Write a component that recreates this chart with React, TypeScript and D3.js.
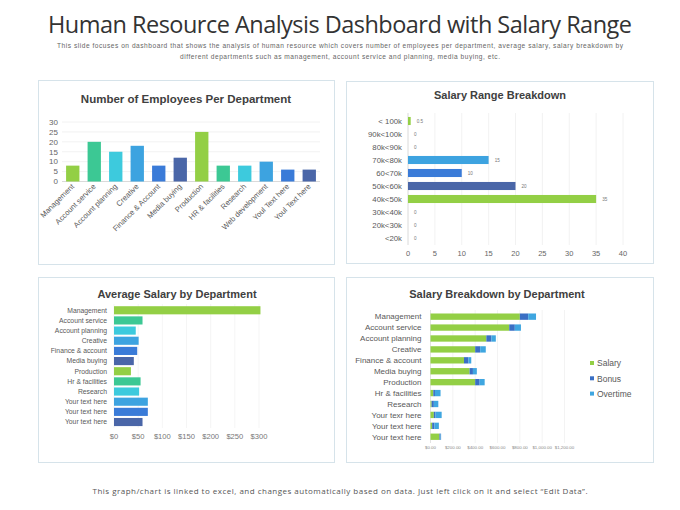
import React from "react";
import * as d3 from "d3";

const PALETTE = ["#93CF45", "#3CC894", "#3DCADD", "#3DA3E0", "#3A7BD8", "#4A66A8"];

// Panel 1
const empDepts = ["Management", "Account service", "Account planning", "Creative", "Finance & Account", "Media buying", "Production", "HR & facilities", "Research", "Web development", "Youl Text here", "Youl Text here "];
const empCounts = [8, 20, 15, 18, 8, 12, 25, 8, 8, 10, 6, 6];
const empTicks = [0, 5, 10, 15, 20, 25, 30];

// Panel 2
const rangeLabels = ["< 100k", "90k<100k", "80k<90k", "70k<80k", "60<70k", "50k<60k", "40k<50k", "30k<40k", "20k<30k", "<20k"];
const rangeValues = [0.5, 0, 0, 15, 10, 20, 35, 0, 0, 0];
const rangeTicks = [0, 5, 10, 15, 20, 25, 30, 35, 40];

// Panel 3
const avgDepts = ["Management", "Account service", "Account planning", "Creative", "Finance & account", "Media buying", "Production", "Hr & facilities", "Research", "Your text here", "Your text here ", "Your text here  "];
const avgSalary = [303, 59, 45, 51, 48, 41, 35, 55, 52, 70, 70, 59];
const avgTicks = [0, 50, 100, 150, 200, 250, 300];

// Panel 4
const brkDepts = ["Management", "Account service", "Account planning", "Creative", "Finance & account", "Media buying", "Production", "Hr & facilities", "Research", "Your texr here", "Your text here", "Your text here "];
const brkSalary = [800, 705, 500, 400, 300, 350, 400, 25, 10, 30, 15, 80];
const brkBonus = [75, 50, 45, 45, 40, 30, 40, 15, 20, 15, 20, 10];
const brkOvertime = [70, 55, 40, 50, 25, 35, 45, 50, 40, 55, 40, 5];
const brkSeries = ["Salary", "Bonus", "Overtime"];
const brkColors = ["#93CF45", "#3A6FC4", "#3FA6E0"];
const brkTicks = [0, 200, 400, 600, 800, 1000, 1200];

const FONT = "'Liberation Sans', Arial, sans-serif";
const TITLE_FONT = "'Open Sans', 'DejaVu Sans', sans-serif";

function Panel({ x, y, w, h }: { x: number; y: number; w: number; h: number }) {
  return <rect x={x + 0.5} y={y + 0.5} width={w} height={h} fill="#fff" stroke="#d6e3ea" strokeWidth={1} />;
}

export default function App() {
  // Panel 1 scales
  const x1 = d3.scaleBand<number>().domain(d3.range(empDepts.length)).range([62, 320]).paddingInner(0.38).paddingOuter(0.19);
  const y1 = d3.scaleLinear().domain([0, 30]).range([181.5, 122]);

  // Panel 2 scales
  const y2 = d3.scaleBand<number>().domain(d3.range(rangeLabels.length)).range([114.5, 244.5]).paddingInner(0.38).paddingOuter(0.19);
  const x2 = d3.scaleLinear().domain([0, 40]).range([408, 623]);

  // Panel 3 scales
  const y3 = d3.scaleBand<number>().domain(d3.range(avgDepts.length)).range([305.2, 427.1]).paddingInner(0.2).paddingOuter(0.1);
  const x3 = d3.scaleLinear().domain([0, 300]).range([114, 259]);

  // Panel 4 scales
  const y4 = d3.scaleBand<number>().domain(d3.range(brkDepts.length)).range([311.2, 442.2]).paddingInner(0.42).paddingOuter(0.21);
  const x4 = d3.scaleLinear().domain([0, 1200]).range([430.5, 564.5]);
  const stackData = brkDepts.map((d, i) => ({ i, Salary: brkSalary[i], Bonus: brkBonus[i], Overtime: brkOvertime[i] }));
  const stacked = d3.stack<any>().keys(brkSeries)(stackData);
  const fmtMoney = (v: number) => "$" + d3.format(",.2f")(v);

  return (
    <svg width={680} height={510} style={{ position: "absolute", left: 0, top: 0, background: "#fff" }} fontFamily={FONT}>
      <rect width={680} height={510} fill="#fff" />
      {/* Header */}
      <text x={340} y={33} textAnchor="middle" fontFamily={TITLE_FONT} fontSize={23.5} fill="#333" textLength={584} lengthAdjust="spacing">
        Human Resource Analysis Dashboard with Salary Range
      </text>
      <text x={340} y={48} textAnchor="middle" fontSize={6.6} fill="#666" textLength={566} lengthAdjust="spacing">
        This slide focuses on dashboard that shows the analysis of human resource which covers number of employees per department, average salary, salary breakdown by
      </text>
      <text x={340} y={59} textAnchor="middle" fontSize={6.6} fill="#666" textLength={320} lengthAdjust="spacing">
        different departments such as management, account service and planning, media buying, etc.
      </text>

      {/* Panel 1 */}
      <Panel x={38} y={80} w={296} h={184} />
      <text x={186} y={102.5} textAnchor="middle" fontSize={11.5} fontWeight="bold" fill="#404040">Number of Employees Per Department</text>
      {empTicks.map((t) => (
        <g key={"g1" + t}>
          <line x1={62} x2={320} y1={y1(t)} y2={y1(t)} stroke={t === 0 ? "#d0d0d0" : "#efefef"} strokeWidth={0.8} />
          <text x={58} y={y1(t) + 2.8} textAnchor="end" fontSize={8} fill="#666">{t}</text>
        </g>
      ))}
      {empCounts.map((v, i) => (
        <rect key={"b1" + i} x={x1(i)} y={y1(v)} width={x1.bandwidth()} height={y1(0) - y1(v)} fill={PALETTE[i % 6]} />
      ))}
      {empDepts.map((d, i) => {
        const cx = (x1(i) as number) + x1.bandwidth() / 2 + 2;
        return (
          <text key={"l1" + i} transform={`translate(${cx},${187}) rotate(-45)`} textAnchor="end" fontSize={7.6} fill="#595959">{d.trim()}</text>
        );
      })}

      {/* Panel 2 */}
      <Panel x={346} y={81} w={307} h={182} />
      <text x={500} y={99} textAnchor="middle" fontSize={11} fontWeight="bold" fill="#404040">Salary Range Breakdown</text>
      {rangeTicks.map((t) => (
        <g key={"g2" + t}>
          <line x1={x2(t)} x2={x2(t)} y1={113} y2={245} stroke={t === 0 ? "#d0d0d0" : "#efefef"} strokeWidth={0.8} />
          <text x={x2(t)} y={255.5} textAnchor="middle" fontSize={7.5} fill="#666">{t}</text>
        </g>
      ))}
      {rangeValues.map((v, i) => (
        <g key={"b2" + i}>
          <rect x={x2(0)} y={y2(i)} width={x2(v) - x2(0)} height={y2.bandwidth()} fill={PALETTE[i % 6]} />
          <text x={x2(v) + 6} y={(y2(i) as number) + y2.bandwidth() / 2 + 1.6} fontSize={4.6} fill="#777">{v}</text>
          <text x={402} y={(y2(i) as number) + y2.bandwidth() / 2 + 2.8} textAnchor="end" fontSize={7.8} fill="#595959">{rangeLabels[i]}</text>
        </g>
      ))}

      {/* Panel 3 */}
      <Panel x={38} y={277} w={296} h={185} />
      <text x={177} y={297.5} textAnchor="middle" fontSize={11} fontWeight="bold" fill="#404040">Average Salary by Department</text>
      {avgTicks.map((t) => (
        <g key={"g3" + t}>
          <line x1={x3(t)} x2={x3(t)} y1={304} y2={428} stroke="#f3f3f3" strokeWidth={0.8} />
          <text x={x3(t)} y={438.5} textAnchor="middle" fontSize={7.6} fill="#777">{"$" + t}</text>
        </g>
      ))}
      {avgSalary.map((v, i) => (
        <g key={"b3" + i}>
          <rect x={x3(0)} y={y3(i)} width={x3(v) - x3(0)} height={y3.bandwidth()} fill={PALETTE[i % 6]} />
          <text x={107} y={(y3(i) as number) + y3.bandwidth() / 2 + 2.4} textAnchor="end" fontSize={6.8} fill="#595959">{avgDepts[i].trim()}</text>
        </g>
      ))}

      {/* Panel 4 */}
      <Panel x={346} y={277} w={307} h={185} />
      <text x={497} y={297.5} textAnchor="middle" fontSize={11} fontWeight="bold" fill="#404040">Salary Breakdown by Department</text>
      {brkTicks.map((t) => (
        <g key={"g4" + t}>
          <line x1={x4(t)} x2={x4(t)} y1={310} y2={443} stroke={t === 0 ? "#dcdcdc" : "#f0f0f0"} strokeWidth={0.8} />
          <text x={x4(t)} y={449} textAnchor="middle" fontSize={4.4} fill="#888">{fmtMoney(t)}</text>
        </g>
      ))}
      {stacked.map((s, si) =>
        s.map((seg, i) => (
          <rect key={"b4" + si + "-" + i} x={x4(seg[0])} y={y4(i)} width={x4(seg[1]) - x4(seg[0])} height={y4.bandwidth()} fill={brkColors[si]} />
        ))
      )}
      {brkDepts.map((d, i) => (
        <text key={"l4" + i} x={421.5} y={(y4(i) as number) + y4.bandwidth() / 2 + 2.8} textAnchor="end" fontSize={8} fill="#595959">{d.trim()}</text>
      ))}
      {brkSeries.map((s, i) => (
        <g key={"lg" + i}>
          <rect x={590} y={361 + i * 15.3} width={4} height={4} fill={brkColors[i]} />
          <text x={597} y={366.3 + i * 15.3} fontSize={8.5} fill="#595959">{s}</text>
        </g>
      ))}

      {/* Footer */}
      <text x={340} y={494} textAnchor="middle" fontFamily={TITLE_FONT} fontSize={8} fill="#555" textLength={495} lengthAdjust="spacing">
        This graph/chart is linked to excel, and changes automatically based on data.  Just left click on it and select “Edit Data”.
      </text>
    </svg>
  );
}
